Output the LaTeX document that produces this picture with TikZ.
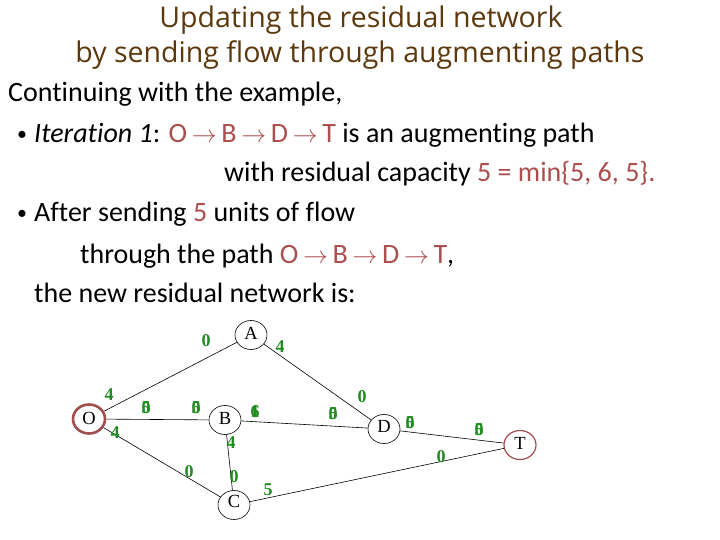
\documentclass[tikz,border=0pt]{standalone}
\usepackage{fontspec}
\usetikzlibrary{shapes.geometric}
\setmainfont{Carlito}[Ligatures=NoCommon]
\newfontfamily\titlefont{Open Sans}
\newfontfamily\graphfont{Liberation Serif}
\definecolor{titlebrown}{RGB}{92,56,12}
\definecolor{pathred}{RGB}{172,78,78}
\definecolor{edgegreen}{RGB}{32,140,32}
\definecolor{ringred}{RGB}{160,78,78}
\newcommand\ovl[2]{\rlap{#1}#2}
\begin{document}
\begin{tikzpicture}[x=1pt,y=-1pt,
  titletext/.style={font=\titlefont\fontsize{28.5}{32}\selectfont, text=titlebrown, anchor=base, inner sep=0pt},
  bodytext/.style={font=\fontsize{28}{32}\selectfont, anchor=base west, inner sep=0pt},
  bulletmark/.style={font=\fontsize{20}{24}\selectfont, anchor=base, inner sep=0pt},
  vertex/.style={draw, ellipse, minimum width=32pt, minimum height=29pt, inner sep=0pt, font=\graphfont\fontsize{18.5}{20}\selectfont, line width=0.6pt},
  ringthick/.style={draw=ringred, line width=2.6pt},
  ringthin/.style={draw=ringred, line width=1.2pt},
  caplabel/.style={font=\graphfont\bfseries\fontsize{18}{20}\selectfont, text=edgegreen, inner sep=0pt},
  conn/.style={line width=0.6pt}]
\useasboundingbox (0,0) rectangle (720,540);
% title
\node[titletext] (t1) at (361,28) {Updating the residual network};
\node[titletext] (t2) at (360,63) {by sending flow through augmenting paths};
% body text
\newcommand\ar{\,$\rightarrow$\,}
\node[bodytext] (l1) at (8,102) {Continuing with the example,};
\node[bulletmark] (b1) at (22,141) {•};
\node[bodytext] (l2) at (34,143) {\textit{Iteration 1}: \textcolor{pathred}{O\ar B\ar D\ar T} is an augmenting path};
\node[bodytext] (l3) at (224,182) {with residual capacity \textcolor{pathred}{5 = min\{5, 6, 5\}.}};
\node[bulletmark] (b2) at (22,220) {•};
\node[bodytext] (l4) at (34,222) {After sending \textcolor{pathred}{5} units of flow};
\node[bodytext] (l5) at (80,263) {through the path \textcolor{pathred}{O\ar B\ar D\ar T},};
\node[bodytext] (l6) at (34,302) {the new residual network is:};
% graph
\node[vertex, ringthick] (O) at (89,419) {\raisebox{1pt}{O}\hspace{6pt}};
\node[vertex] (A) at (251,335) {\raisebox{4pt}{A}\hspace{6pt}};
\node[vertex] (B) at (225,420) {\raisebox{3pt}{B}};
\node[vertex] (C) at (234,505) {\raisebox{7pt}{C}\hspace{6pt}};
\node[vertex] (D) at (384,429) {\raisebox{5pt}{D}\hspace{5pt}};
\node[vertex, ringthin] (T) at (520,445) {\raisebox{3pt}{T}\hspace{5pt}};
\draw[conn] (O) -- (A);
\draw[conn] (O) -- (B);
\draw[conn] (O) -- (C);
\draw[conn] (A) -- (D);
\draw[conn] (B) -- (D);
\draw[conn] (B) -- (C);
\draw[conn] (C) -- (T);
\draw[conn] (D) -- (T);
% capacities
\node[caplabel] (cOA1) at (109,395) {4};
\node[caplabel] (cOA2) at (206,341) {0};
\node[caplabel] (cAD1) at (280,347) {4};
\node[caplabel] (cAD2) at (362,397) {0};
\node[caplabel] (cOB1) at (146,408) {\ovl{5}{0}};
\node[caplabel] (cOB2) at (196,408) {\ovl{0}{5}};
\node[caplabel] (cBD1) at (255,412) {\ovl{6}{1}};
\node[caplabel] (cBD2) at (333,414) {\ovl{0}{5}};
\node[caplabel] (cDT1) at (410,423) {\ovl{5}{0}};
\node[caplabel] (cDT2) at (479,430) {\ovl{0}{5}};
\node[caplabel] (cOC1) at (115,433) {4};
\node[caplabel] (cOC2) at (189,472) {0};
\node[caplabel] (cBC1) at (231,443) {4};
\node[caplabel] (cBC2) at (234,477) {0};
\node[caplabel] (cCT1) at (268,490) {5};
\node[caplabel] (cCT2) at (441,457) {0};
\end{tikzpicture}
\end{document}
